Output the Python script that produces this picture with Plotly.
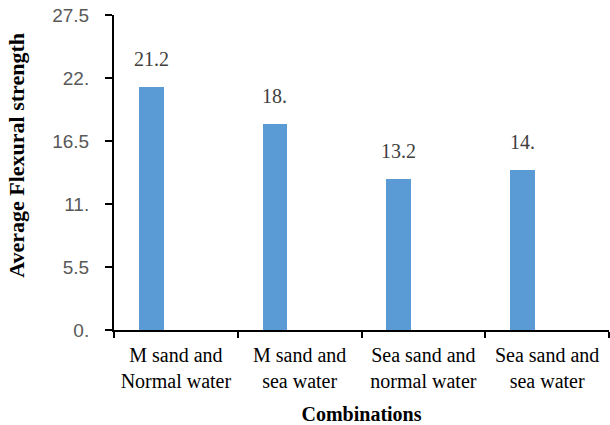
import plotly.graph_objects as go

# Flexural strength by sand / water combination
categories = ["M sand and<br>Normal water", "M sand and<br>sea water",
              "Sea sand and<br>normal water", "Sea sand and<br>sea water"]
strength = [21.2, 18.0, 13.2, 14.0]

y_ticks = [0, 5.5, 11, 16.5, 22, 27.5]


def fmt(v):
    # one decimal, dropping a trailing zero but keeping the point ("18.")
    s = f"{v:.1f}"
    return s[:-1] if s.endswith("0") else s


SERIF = "Liberation Serif, Times New Roman, serif"
SANS = "Liberation Sans, Arial, sans-serif"

BAR_WIDTH = 0.2
BAR_OFFSET = -0.3

fig = go.Figure()
fig.add_trace(go.Bar(
    x=categories,
    y=strength,
    width=BAR_WIDTH,
    offset=BAR_OFFSET,
    marker=dict(color="#5B9BD5", line=dict(width=0)),
    showlegend=False,
))

# value labels above each bar
for i, v in enumerate(strength):
    fig.add_annotation(
        x=i + BAR_OFFSET + BAR_WIDTH / 2, y=v, xref="x", yref="y",
        text=fmt(v), showarrow=False, xanchor="center", yanchor="bottom",
        yshift=15,
        font=dict(family=SERIF, size=20, color="#404040"),
    )

# y-axis title
fig.add_annotation(
    x=-0.196, y=0.556, xref="paper", yref="paper",
    xanchor="center", yanchor="middle",
    text="<b>Average Flexural strength</b>", textangle=-90, showarrow=False,
    font=dict(family=SERIF, size=22, color="#000000"),
)

fig.update_layout(
    width=610, height=425,
    margin=dict(l=114, r=1, t=15, b=95),
    paper_bgcolor="white", plot_bgcolor="white",
    bargap=0,
    xaxis=dict(
        type="category",
        range=[-0.5, 3.5],
        tickson="boundaries",
        ticks="outside", ticklen=6, tickwidth=2, tickcolor="#000000",
        showline=True, linecolor="#000000", linewidth=2,
        showgrid=False, zeroline=False,
        ticklabelstandoff=6,
        tickfont=dict(family=SERIF, size=20, color="#000000"),
        title=dict(text="<b>Combinations</b>", standoff=16,
                   font=dict(family=SERIF, size=20, color="#000000")),
    ),
    yaxis=dict(
        range=[0, 27.5],
        tickvals=y_ticks,
        ticktext=[fmt(t) for t in y_ticks],
        ticks="outside", ticklen=7, tickwidth=2, tickcolor="#000000",
        showline=True, linecolor="#000000", linewidth=2,
        showgrid=False, zeroline=False,
        ticklabelstandoff=12,
        tickfont=dict(family=SANS, size=19, color="#595959"),
    ),
)

fig.write_html("out.html")
